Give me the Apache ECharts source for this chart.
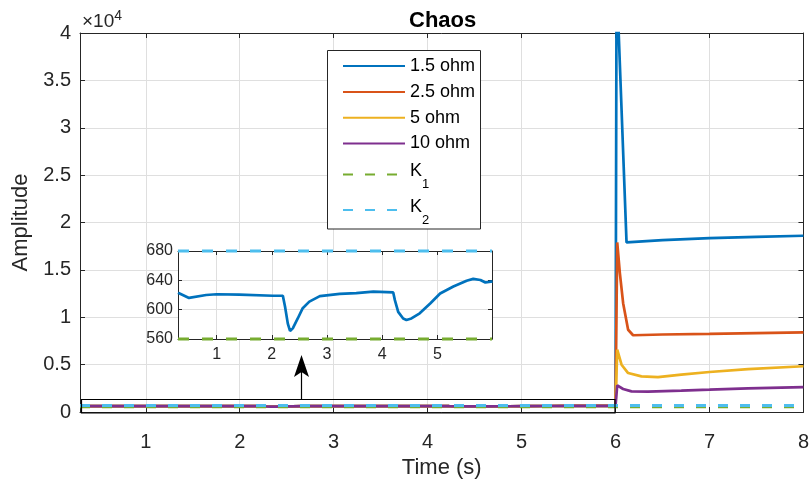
<!DOCTYPE html>
<html><head><meta charset="utf-8">
<script src="https://cdn.jsdelivr.net/npm/echarts@6/dist/echarts.min.js"></script>
<style>html,body{margin:0;padding:0;background:#fff}#c{width:812px;height:484px}</style>
</head><body><div id="c"></div>
<script>
// ---- data ----
const seriesNames = ['1.5 ohm', '2.5 ohm', '5 ohm', '10 ohm', 'K1', 'K2'];
const seriesColors = ['#0072BD', '#D95319', '#EDB120', '#7E2F8E', '#77AC30', '#4DBEEE'];

// common response before t = 6 s
const preT = [0.3, 0.5, 0.81, 1.0, 1.41, 2.02, 2.2, 2.24, 2.29, 2.33, 2.38, 2.47, 2.56, 2.68, 2.87, 3.23, 3.53, 3.84, 4.2, 4.23, 4.29, 4.38, 4.44, 4.53, 4.68, 4.87, 5.05, 5.29, 5.53, 5.65, 5.78, 5.87, 6.0];
const preV = [623, 616, 620, 621, 620.5, 619, 619, 604, 581, 571, 574.5, 588, 602, 611, 618.5, 621.5, 622.5, 624.5, 623.5, 613, 597, 588, 586, 588, 595, 608.5, 622, 631.5, 639.5, 642, 640.5, 637, 638.5];

// after t = 6 s
const blueT = [6.011, 6.117, 6.5, 7.0, 7.5, 8.0];
const blueV = [46000, 17900, 18150, 18350, 18480, 18600];
const orangeT = [6.018, 6.046, 6.081, 6.134, 6.187, 6.5, 7.0, 7.5, 8.0];
const orangeV = [17900, 14660, 11490, 8680, 8100, 8180, 8250, 8330, 8400];
const yellowT = [6.018, 6.064, 6.134, 6.276, 6.452, 6.70, 7.0, 7.41, 8.0];
const yellowV = [6570, 4990, 4110, 3760, 3690, 3940, 4220, 4530, 4830];
const purpleT = [6.018, 6.081, 6.17, 6.346, 6.70, 7.0, 7.41, 8.0];
const purpleV = [2810, 2425, 2180, 2140, 2250, 2355, 2500, 2620];

const kT = [0.3, 8];
const k1V = [560, 560];
const k2V = [680, 680];
const kInsetT = [0.3, 5.99];

// ---- build ----
const zip = (t, v) => t.map((x, i) => [x, v[i]]);
const FF = '"Liberation Sans", Arial, Helvetica, sans-serif';
const AX = '#262626';
const GRID = '#dfdfdf';

const postT = [blueT, orangeT, yellowT, purpleT];
const postV = [blueV, orangeV, yellowV, purpleV];

function xAx(grid, pos, min, max, opts) {
  return Object.assign({
    gridIndex: grid, type: 'value', position: pos, min: min, max: max,
    minInterval: 1, maxInterval: 1,
    axisLine: { show: true, onZero: false, lineStyle: { color: AX, width: 1 } },
    axisTick: { show: true, inside: true, length: 5, lineStyle: { color: AX } },
    axisLabel: { show: false },
    splitLine: { show: false }
  }, opts || {});
}
function yAx(grid, pos, min, max, interval, opts) {
  return Object.assign({
    gridIndex: grid, type: 'value', position: pos, min: min, max: max, interval: interval,
    axisLine: { show: true, onZero: false, lineStyle: { color: AX, width: 1 } },
    axisTick: { show: true, inside: true, length: 5, lineStyle: { color: AX } },
    axisLabel: { show: false },
    splitLine: { show: false }
  }, opts || {});
}

const intFmt = v => (Math.abs(v - Math.round(v)) < 1e-9 ? String(Math.round(v)) : '');

const xAxes = [
  xAx(0, 'bottom', 0.3, 8, {
    axisLabel: { show: true, margin: 20, fontSize: 20, color: AX, fontFamily: FF, formatter: intFmt },
    splitLine: { show: true, lineStyle: { color: GRID, width: 1 } },
    name: 'Time (s)', nameLocation: 'middle', nameGap: 44,
    nameTextStyle: { fontSize: 22, color: AX, fontFamily: FF }
  }),
  xAx(0, 'top', 0.3, 8),
  xAx(1, 'bottom', 0.3, 5.99, {
    z: 11,
    axisTick: { show: true, inside: true, length: 4, lineStyle: { color: AX } },
    axisLabel: { show: true, margin: 8, fontSize: 16, color: AX, fontFamily: FF, formatter: intFmt },
    splitLine: { show: true, lineStyle: { color: GRID, width: 1 } }
  }),
  xAx(1, 'top', 0.3, 5.99, { z: 11, axisTick: { show: true, inside: true, length: 4, lineStyle: { color: AX } } })
];
const yAxes = [
  yAx(0, 'left', 0, 40000, 5000, {
    axisLabel: { show: true, margin: 9, fontSize: 20, color: AX, fontFamily: FF, formatter: v => String(v / 10000) },
    splitLine: { show: true, lineStyle: { color: GRID, width: 1 } },
    name: 'Amplitude', nameLocation: 'middle', nameGap: 45,
    nameTextStyle: { fontSize: 22, color: AX, fontFamily: FF }
  }),
  yAx(0, 'right', 0, 40000, 5000),
  yAx(1, 'left', 560, 680, 40, {
    z: 11,
    axisTick: { show: true, inside: true, length: 4, lineStyle: { color: AX } },
    axisLabel: { show: true, margin: 5, fontSize: 16, color: AX, fontFamily: FF },
    splitLine: { show: true, lineStyle: { color: GRID, width: 1 } }
  }),
  yAx(1, 'right', 560, 680, 40, { z: 11, axisTick: { show: true, inside: true, length: 4, lineStyle: { color: AX } } })
];

const series = [];
for (let i = 0; i < 4; i++) {
  series.push({
    name: seriesNames[i], type: 'line', xAxisIndex: 0, yAxisIndex: 0,
    data: zip(preT, preV).concat(zip(postT[i], postV[i])),
    symbol: 'none', color: seriesColors[i],
    lineStyle: { width: 2.7, color: seriesColors[i] }, z: 2
  });
}
series.push({
  name: 'K1', type: 'line', xAxisIndex: 0, yAxisIndex: 0, data: zip(kT, k1V),
  symbol: 'none', color: seriesColors[4], lineStyle: { width: 3, type: [10, 12], color: seriesColors[4] }, z: 3
});
series.push({
  name: 'K2', type: 'line', xAxisIndex: 0, yAxisIndex: 0, data: zip(kT, k2V),
  symbol: 'none', color: seriesColors[5], lineStyle: { width: 3, type: [10, 12], color: seriesColors[5] }, z: 3
});
// inset
series.push({
  name: 'inset 1.5 ohm', type: 'line', xAxisIndex: 2, yAxisIndex: 2, data: zip(preT, preV),
  symbol: 'none', color: seriesColors[0], lineStyle: { width: 2.7, color: seriesColors[0] }, z: 12
});
series.push({
  name: 'inset K1', type: 'line', xAxisIndex: 2, yAxisIndex: 2, data: zip(kInsetT, k1V),
  symbol: 'none', clip: false, color: seriesColors[4], lineStyle: { width: 3, type: [11, 13], color: seriesColors[4] }, z: 12
});
series.push({
  name: 'inset K2', type: 'line', xAxisIndex: 2, yAxisIndex: 2, data: zip(kInsetT, k2V),
  symbol: 'none', clip: false, color: seriesColors[5], lineStyle: { width: 3, type: [11, 13], color: seriesColors[5] }, z: 12
});

const legendText = {
  fontSize: 18, color: '#000', fontFamily: FF,
  rich: {
    n: { fontSize: 18, color: '#000', fontFamily: FF },
    k: { fontSize: 18, lineHeight: 24, padding: [0, 0, 6, 0], color: '#000', fontFamily: FF },
    s: { fontSize: 13, lineHeight: 14, padding: [20, 0, 0, 0], color: '#000', fontFamily: FF }
  }
};
const legendFmt = function (name) {
  if (name === 'K1') return '{k|K}{s|1}';
  if (name === 'K2') return '{k|K}{s|2}';
  return '{n|' + name + '}';
};
// item centres of the legend rows (pixels from top) -> legend tops (icon bounding starts 20px above centre)
const legendRowCentres = [66, 92, 117.7, 143.5, 174.5, 210];
const legends = seriesNames.map((nm, i) => ({
  data: [nm], orient: 'vertical', left: 342, top: legendRowCentres[i] - 20,
  itemWidth: 62, itemHeight: 50, itemGap: 0, padding: 0,
  selectedMode: false, z: 20, itemStyle: { opacity: 0, borderWidth: 0 },
  formatter: legendFmt, textStyle: legendText
}));

const chart = echarts.init(document.getElementById('c'), null, { renderer: 'canvas' });
chart.setOption({
  animation: false,
  backgroundColor: '#fff',
  title: {
    text: 'Chaos', left: 409, top: 10, padding: 0,
    textStyle: { fontSize: 22, fontWeight: 'bold', color: '#000', fontFamily: FF }
  },
  grid: [
    { left: 80, top: 33, width: 726, height: 379, containLabel: false },
    { left: 178, top: 251, width: 314, height: 88, containLabel: false, show: true, backgroundColor: '#fff', borderWidth: 0, z: 10 }
  ],
  xAxis: xAxes,
  yAxis: yAxes,
  legend: legends,
  graphic: [
    {
      type: 'rect', z: 15, silent: true,
      shape: { x: 327.5, y: 50.5, width: 153, height: 178.5 },
      style: { fill: '#fff', stroke: AX, lineWidth: 1 }
    },
    {
      type: 'text', left: 82, top: 9, z: 20,
      style: {
        text: '{a|×10}{b|4}',
        rich: {
          a: { fontSize: 19, fill: AX, fontFamily: FF, lineHeight: 22, verticalAlign: 'bottom' },
          b: { fontSize: 14, fill: AX, fontFamily: FF, lineHeight: 14, verticalAlign: 'top' }
        }
      }
    },
    {
      type: 'rect', z: 30, silent: true,
      shape: { x: 81.5, y: 399.5, width: 533.5, height: 13.5 },
      style: { fill: 'none', stroke: '#000', lineWidth: 1.2 }
    },
    {
      type: 'line', z: 30, silent: true,
      shape: { x1: 301.5, y1: 399.5, x2: 301.5, y2: 372 },
      style: { stroke: '#000', lineWidth: 1.2 }
    },
    {
      type: 'polygon', z: 30, silent: true,
      shape: { points: [[301.5, 355], [309, 377], [301.5, 372], [294, 377]] },
      style: { fill: '#000' }
    }
  ],
  series: series
});
</script>
</body></html>
